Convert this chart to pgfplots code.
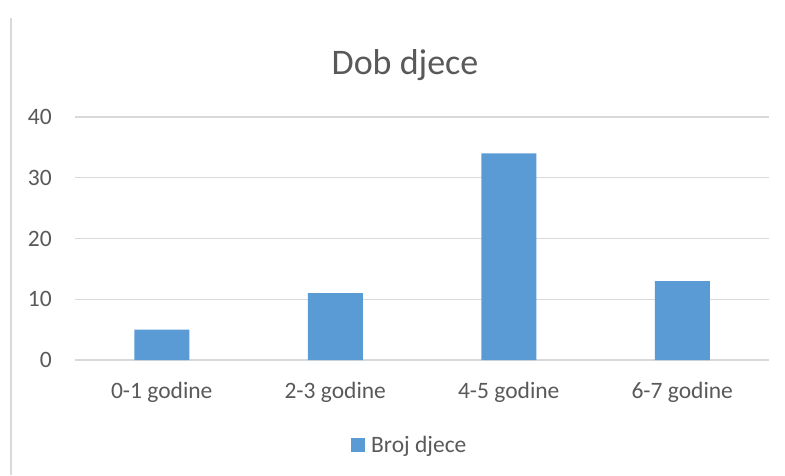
\documentclass[border=0pt]{standalone}
\usepackage{fontspec}
\setmainfont{Carlito}
\usepackage{pgfplots}
\pgfplotsset{compat=1.18}
\definecolor{barblue}{HTML}{5B9BD5}
\definecolor{textgray}{HTML}{595959}
\definecolor{gridgray}{HTML}{D9D9D9}
\begin{document}
\begin{tikzpicture}
\path[use as bounding box] (0,0) rectangle (785pt,475pt);
% thin frame line on the left edge of the chart
\draw[gridgray, line width=1.3pt] (11pt,0) -- (11pt,457pt);
\begin{axis}[
  at={(75pt,115pt)}, anchor=south west,
  scale only axis,
  width=694pt, height=243pt,
  ybar, bar width=55pt,
  xmin=-0.5, xmax=3.5,
  ymin=0, ymax=40,
  ytick={0,10,20,30,40},
  xtick=data,
  xticklabels={0-1 godine, 2-3 godine, 4-5 godine, 6-7 godine},
  axis line style={draw=none},
  major tick length=0pt,
  ymajorgrids,
  grid style={gridgray, line width=1.3pt},
  /pgf/number format/assume math mode=true,
  ticklabel style={font=\fontsize{23.5}{28}\selectfont, text=textgray, inner sep=0pt},
  xticklabel style={anchor=base, yshift=-38pt},
  yticklabel style={anchor=east, xshift=-23pt},
  title={Dob djece},
  title style={font=\fontsize{36}{43}\selectfont, text=textgray, inner sep=0pt,
    at={(axis description cs:0.4755,1)}, anchor=base, yshift=37pt},
  legend style={at={(axis description cs:0.481,-0.35)}, anchor=center,
    draw=none, fill=none, inner sep=0pt,
    font=\fontsize{23.5}{28}\selectfont, text=textgray,
    nodes={inner sep=0pt, text=textgray}},
  legend image code/.code={\fill[barblue] (0pt,-7pt) rectangle (14pt,7pt);},
  legend entries={\hspace{6pt}Broj djece},
]
\addplot[fill=barblue, draw=none] coordinates {(0,5) (1,11) (2,34) (3,13)};
\end{axis}
\end{tikzpicture}
\end{document}
